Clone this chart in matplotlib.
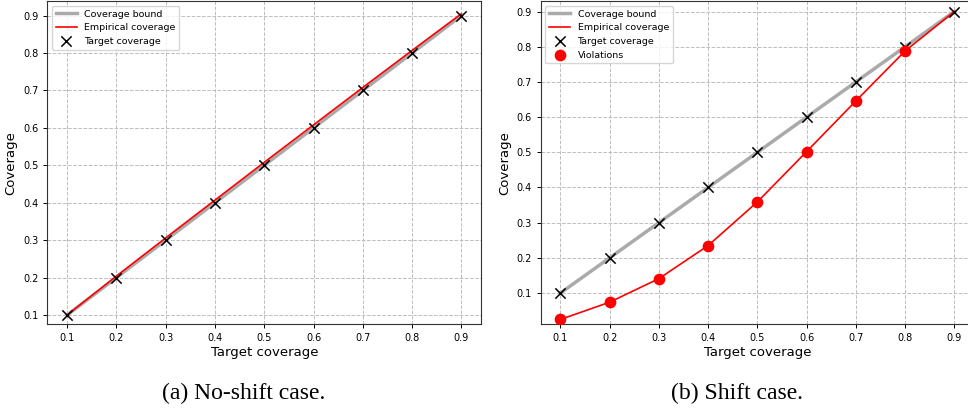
import numpy as np
import matplotlib.pyplot as plt

targets = [0.1, 0.2, 0.3, 0.4, 0.5, 0.6, 0.7, 0.8, 0.9]
emp_noshift = [0.100, 0.204, 0.306, 0.407, 0.508, 0.608, 0.708, 0.807, 0.905]
emp_shift = [0.025, 0.074, 0.141, 0.235, 0.359, 0.502, 0.646, 0.788, 0.900]
ticks = [0.1, 0.2, 0.3, 0.4, 0.5, 0.6, 0.7, 0.8, 0.9]

fig = plt.figure(figsize=(9.68, 4.08), dpi=100)
ax1 = fig.add_axes([0.049, 0.205, 0.448, 0.7925])
ax2 = fig.add_axes([0.5586, 0.205, 0.4476, 0.7925])


def draw(ax, emp, ylim, violations=False):
    ax.plot(targets, targets, color="#aaaaaa", lw=2.5, label="Coverage bound", zorder=2)
    ax.plot(targets, emp, color="red", lw=1.2, label="Empirical coverage", zorder=3)
    ax.scatter(targets, targets, marker="x", color="black", s=55, lw=1.1,
               label="Target coverage", zorder=4)
    if violations:
        t = np.array(targets)
        e = np.array(emp)
        m = e < t - 0.005
        ax.scatter(t[m], e[m], color="red", s=55, label="Violations", zorder=5)
    ax.set_xlim(0.06, 0.94)
    ax.set_ylim(*ylim)
    ax.set_xticks(ticks)
    ax.set_yticks(ticks)
    ax.tick_params(labelsize=7, length=3, width=0.7)
    ax.grid(True, linestyle="--", color="#bdbdbd", lw=0.7)
    ax.set_axisbelow(True)
    for s in ax.spines.values():
        s.set_linewidth(0.8)
        s.set_color("#333333")
    ax.set_xlabel("Target coverage", fontsize=9.5, labelpad=2)
    ax.set_ylabel("Coverage", fontsize=9.5, labelpad=4)
    ax.legend(loc="upper left", fontsize=6.8, borderaxespad=0.5, handlelength=2.2,
              framealpha=0.8, edgecolor="#cccccc")


draw(ax1, emp_noshift, (0.075, 0.939))
draw(ax2, emp_shift, (0.011, 0.930), violations=True)

fig.text(0.252, 0.036, "(a) No-shift case.", family="Liberation Serif", fontsize=17,
         ha="center", va="center")
fig.text(0.761, 0.036, "(b) Shift case.", family="Liberation Serif", fontsize=17,
         ha="center", va="center")

fig.savefig("out.png", dpi=100)
